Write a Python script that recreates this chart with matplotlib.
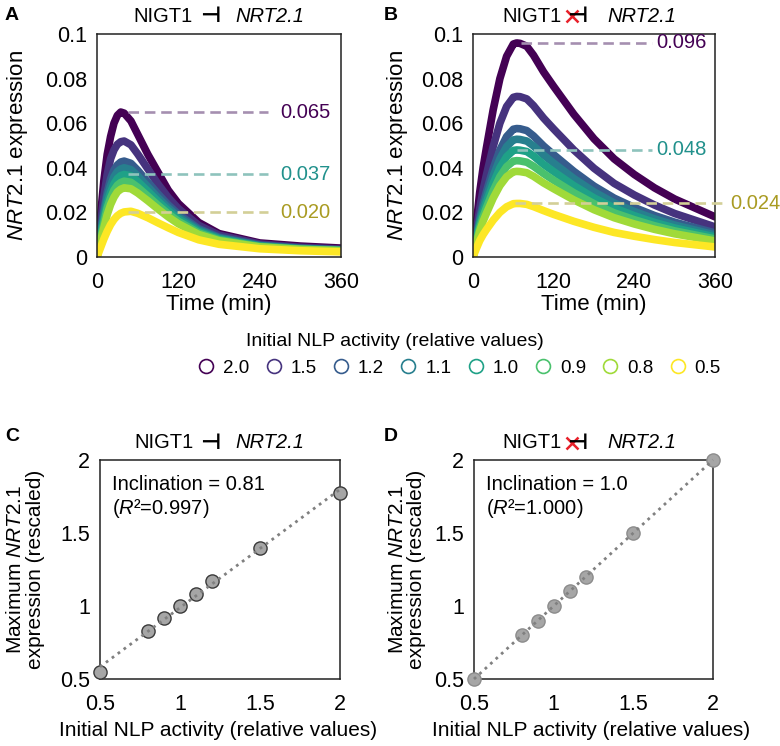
import numpy as np
import matplotlib
matplotlib.use('Agg')
import matplotlib.pyplot as plt
from matplotlib.lines import Line2D

plt.rcParams['font.family'] = ['Liberation Sans', 'DejaVu Sans']
plt.rcParams['mathtext.fontset'] = 'custom'
plt.rcParams['mathtext.rm'] = 'Liberation Sans'
plt.rcParams['mathtext.it'] = 'Liberation Sans:italic'

# Niveles iniciales de actividad NLP (leyenda)
nlp_levels = ['2.0', '1.5', '1.2', '1.1', '1.0', '0.9', '0.8', '0.5']
colores = ['#440154', '#46337e', '#365c8d', '#277f8e', '#1fa187', '#4ac16d', '#a0da39', '#fde725']

# Panel A: con represion NIGT1 -| NRT2.1
t_a = [0, 5, 10, 15, 20, 25, 30, 35, 40, 50, 60, 75, 90, 105, 120, 150, 180, 240, 300, 360]
curvas_a = [
    [0, .018, .034, .046, .054, .060, .0635, .065, .0645, .061, .055, .046, .038, .030, .024, .0155, .0105, .0063, .0049, .004],
    [0, .014, .027, .037, .044, .048, .0505, .0517, .052, .0503, .0462, .0395, .0327, .0267, .0217, .0142, .0098, .0058, .0043, .0035],
    [0, .011, .021, .029, .035, .039, .0413, .0426, .043, .042, .0389, .0336, .0283, .0234, .0192, .0127, .0089, .0053, .0039, .0032],
    [0, .010, .019, .027, .032, .036, .0383, .0395, .040, .0392, .0364, .0315, .0266, .0221, .0181, .0121, .0085, .0051, .0038, .0031],
    [0, .009, .017, .024, .029, .0328, .0352, .0365, .037, .0364, .0339, .0295, .0250, .0208, .0171, .0115, .0081, .0049, .0036, .003],
    [0, .008, .015, .022, .0265, .030, .0322, .0334, .034, .0335, .0313, .0273, .0232, .0194, .016, .0108, .0077, .0047, .0035, .0029],
    [0, .007, .013, .019, .0235, .0268, .0292, .0304, .031, .0306, .0287, .0252, .0215, .018, .0149, .0101, .0073, .0045, .0034, .0028],
    [0, .004, .008, .0115, .0145, .0168, .0185, .0196, .0202, .0205, .0196, .0176, .0153, .0131, .011, .0077, .0057, .0037, .0028, .0023],
]
picos_a = [0.065, 0.037, 0.020]

# Panel B: sin represion
t_b = [0, 5, 10, 15, 20, 30, 40, 50, 60, 65, 70, 80, 90, 105, 120, 150, 180, 210, 240, 270, 300, 330, 360]
curvas_b = [
    [0, .015, .029, .040, .049, .066, .080, .090, .0955, .096, .0958, .0945, .0905, .083, .0765, .064, .053, .044, .037, .031, .026, .022, .018],
    [0, .0113, .0218, .030, .0368, .0495, .060, .0675, .0716, .072, .0719, .0709, .0679, .0623, .0574, .048, .0398, .033, .0278, .0233, .0195, .0165, .0135],
    [0, .009, .0174, .024, .0294, .0396, .048, .054, .0573, .0576, .0575, .0567, .0543, .0498, .0459, .0384, .0318, .0264, .0222, .0186, .0156, .0132, .0108],
    [0, .0083, .016, .022, .027, .0363, .044, .0495, .0525, .0528, .0527, .052, .0498, .0457, .0421, .0352, .0292, .0242, .0204, .0171, .0143, .0121, .0099],
    [0, .0075, .0145, .020, .0245, .033, .040, .045, .0478, .048, .0479, .0473, .0453, .0415, .0383, .032, .0265, .022, .0185, .0155, .013, .011, .009],
    [0, .0068, .0131, .018, .0221, .0297, .036, .0405, .043, .0432, .0431, .0425, .0407, .0374, .0344, .0288, .0239, .0198, .0167, .014, .0117, .0099, .0081],
    [0, .006, .0116, .016, .0196, .0264, .032, .036, .0382, .0384, .0383, .0378, .0362, .0332, .0306, .0256, .0212, .0176, .0148, .0124, .0104, .0088, .0072],
    [0, .0038, .0073, .010, .0123, .0165, .020, .0225, .0239, .024, .024, .0236, .0226, .0208, .0191, .016, .0133, .011, .0093, .0078, .0065, .0055, .0045],
]
picos_b = [0.096, 0.048, 0.024]

# Paneles C y D: maximo reescalado vs actividad NLP
nlp_x = [0.5, 0.8, 0.9, 1.0, 1.1, 1.2, 1.5, 2.0]
max_c = [0.55, 0.83, 0.915, 1.0, 1.08, 1.168, 1.40, 1.776]
max_d = [0.5, 0.8, 0.9, 1.0, 1.1, 1.2, 1.5, 2.0]

fig = plt.figure(figsize=(7.8, 7.46), dpi=100)
ax_a = fig.add_axes([0.1244, 0.6555, 0.3128, 0.2989])
ax_b = fig.add_axes([0.6064, 0.6555, 0.3103, 0.2989])
ax_c = fig.add_axes([0.1282, 0.0898, 0.3077, 0.2936])
ax_d = fig.add_axes([0.6077, 0.0898, 0.3064, 0.2936])

TICK = 15.5
LAB = 16


def estilo(ax):
    for s in ax.spines.values():
        s.set_color('#222222')
        s.set_linewidth(1.1)
    ax.tick_params(length=0, labelsize=TICK)
    ax.tick_params(axis='x', pad=11)
    ax.tick_params(axis='y', pad=7)


def titulo(ax, x1, x2, x3, y, cruz=None):
    ax.text(x1, y, 'NIGT1', transform=ax.transAxes, ha='right', va='center', fontsize=14.5)
    ax.text(x2, y, '\u22a3', transform=ax.transAxes, ha='center', va='center', fontsize=16,
            fontweight='bold', family=['DejaVu Sans'])
    ax.text(x3, y, 'NRT2.1', transform=ax.transAxes, ha='left', va='center', fontsize=14.5,
            style='italic')
    if cruz is not None:
        ax.plot([cruz], [y], transform=ax.transAxes, marker='x', color='#e8202a', ms=8, mew=1.8,
                clip_on=False)


def curvas(ax, t, datos, picos, tramos, colores_txt, xt):
    for vals, c in zip(datos, colores):
        ax.plot(t, vals, color=c, lw=5.5, solid_capstyle='round', solid_joinstyle='round')
    dash_cols = ['#a58fb0', '#8ec3bc', '#d3cf97']
    for p, (x0, x1), dc, tc, xl in zip(picos, tramos, dash_cols, colores_txt, xt):
        ax.plot([x0, x1], [p, p], ls='--', dashes=(4, 2.2), lw=1.9, color=dc, clip_on=False, zorder=5)
        ax.text(xl, p, f'{p:.3f}', color=tc, fontsize=14.5, va='center', ha='left', clip_on=False)
    ax.set_xlim(0, 360)
    ax.set_ylim(0, 0.1)
    ax.set_xticks([0, 120, 240, 360])
    ax.set_yticks([0, 0.02, 0.04, 0.06, 0.08, 0.1])
    ax.set_yticklabels(['0', '0.02', '0.04', '0.06', '0.08', '0.1'])
    estilo(ax)
    ax.text(0.5, -0.215, 'Time (min)', transform=ax.transAxes, ha='center', va='center', fontsize=LAB)


curvas(ax_a, t_a, curvas_a, picos_a, [(45, 252)] * 3,
       ['#440154', '#21918c', '#a99b22'], [270, 270, 270])
curvas(ax_b, t_b, curvas_b, picos_b, [(72, 266), (66, 266), (62, 378)],
       ['#440154', '#21918c', '#a99b22'], [272, 272, 382])
ax_a.text(-0.325, 0.5, '$\\mathit{NRT2.1}$ expression', transform=ax_a.transAxes, rotation=90,
          ha='center', va='center', fontsize=LAB)
ax_b.text(-0.31, 0.5, '$\\mathit{NRT2.1}$ expression', transform=ax_b.transAxes, rotation=90,
          ha='center', va='center', fontsize=LAB)
titulo(ax_a, 0.393, 0.463, 0.566, 1.08)
titulo(ax_b, 0.368, 0.43, 0.554, 1.08, cruz=0.41)

# Leyenda
fig.text(0.506, 1 - 341 / 746, 'Initial NLP activity (relative values)', ha='center', va='center',
         fontsize=14)
handles = [Line2D([], [], ls='none', marker='o', ms=10, mfc='none', mec=c, mew=1.2) for c in colores]
fig.legend(handles, nlp_levels, ncol=8, loc='center', bbox_to_anchor=(0.587, 1 - 368 / 746),
           frameon=False, fontsize=13.5, handletextpad=0.3, columnspacing=0.7, handlelength=1.2)


def dispersion(ax, y, texto, r2, borde):
    pend, inter = np.polyfit(nlp_x, y, 1)
    xs = np.array([0.5, 2.0])
    ax.plot(nlp_x, y, ls='none', marker='o', ms=9.5, mfc='#a6a6a6', mec=borde, mew=1.0,
            clip_on=False, zorder=3)
    ax.plot(xs, pend * xs + inter, ls=':', color='#808080', lw=2.0, zorder=4, clip_on=False)
    ax.set_xlim(0.5, 2)
    ax.set_ylim(0.5, 2)
    ax.set_xticks([0.5, 1, 1.5, 2])
    ax.set_xticklabels(['0.5', '1', '1.5', '2'])
    ax.set_yticks([0.5, 1, 1.5, 2])
    ax.set_yticklabels(['0.5', '1', '1.5', '2'])
    estilo(ax)
    ax.text(0.05, 0.89, texto, transform=ax.transAxes, fontsize=14.5, va='center')
    ax.text(0.05, 0.78, '($\\mathit{R}$\u00b2=' + r2 + ')', transform=ax.transAxes, fontsize=14.5,
            va='center')
    ax.text(0.49, -0.233, 'Initial NLP activity (relative values)', transform=ax.transAxes,
            ha='center', va='center', fontsize=15)


dispersion(ax_c, max_c, 'Inclination = 0.81', '0.997', '#3a3a3a')
dispersion(ax_d, max_d, 'Inclination = 1.0', '1.000', '#8c8c8c')
ax_c.text(-0.31, 0.5, 'Maximum $\\mathit{NRT2.1}$\nexpression (rescaled)', transform=ax_c.transAxes,
          rotation=90, ha='center', va='center', fontsize=15, linespacing=1.05)
ax_d.text(-0.28, 0.5, 'Maximum $\\mathit{NRT2.1}$\nexpression (rescaled)', transform=ax_d.transAxes,
          rotation=90, ha='center', va='center', fontsize=15, linespacing=1.05)
titulo(ax_c, 0.39, 0.458, 0.5625, 1.078)
titulo(ax_d, 0.368, 0.43, 0.556, 1.078, cruz=0.41)

# Letras de panel
for letra, x, y in [('A', 5, 15), ('B', 384, 15), ('C', 5, 437), ('D', 384, 437)]:
    fig.text(x / 780, 1 - y / 746, letra, fontsize=14, fontweight='bold', ha='left', va='center')

fig.savefig('out.png', dpi=100)
